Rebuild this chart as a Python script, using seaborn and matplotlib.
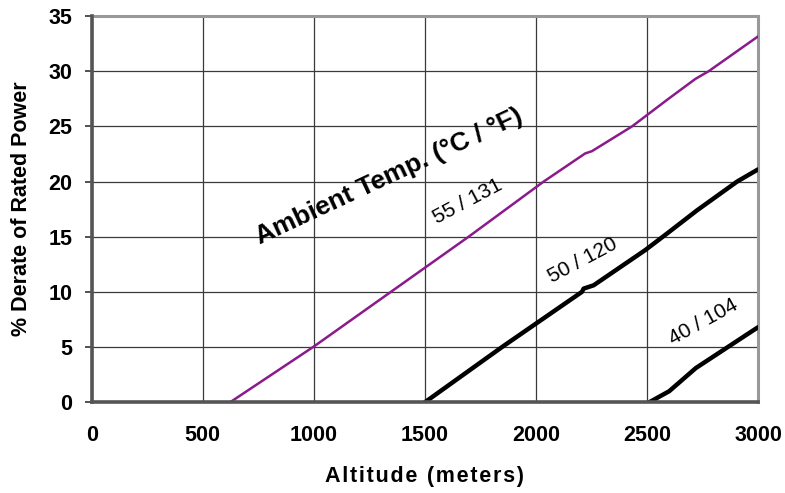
import matplotlib
matplotlib.use("Agg")
import matplotlib.pyplot as plt
import seaborn as sns
import pandas as pd

# Data
alt_55 = [623, 750, 1000, 1697, 2035, 2222, 2252, 2433, 2597, 2718, 2778, 3000]
der_55 = [0.0, 1.7, 5.05, 15.0, 20.0, 22.55, 22.75, 25.0, 27.5, 29.3, 30.0, 33.15]

alt_50 = [1500, 1847, 2207, 2215, 2260, 2493, 2591, 2726, 2906, 3000]
der_50 = [0.0, 5.0, 10.0, 10.3, 10.6, 13.8, 15.3, 17.4, 20.0, 21.1]

alt_40 = [2510, 2600, 2720, 3000]
der_40 = [0.0, 1.0, 3.1, 6.8]

series_labels = ["55 / 131", "50 / 120", "40 / 104"]
x_ticks = [0, 500, 1000, 1500, 2000, 2500, 3000]
y_ticks = [0, 5, 10, 15, 20, 25, 30, 35]

sns.set_theme(style="whitegrid")
plt.rcParams["font.family"] = ["Liberation Sans", "DejaVu Sans"]

df = pd.concat([
    pd.DataFrame({"alt": alt_55, "der": der_55, "curve": series_labels[0]}),
    pd.DataFrame({"alt": alt_50, "der": der_50, "curve": series_labels[1]}),
    pd.DataFrame({"alt": alt_40, "der": der_40, "curve": series_labels[2]}),
])

fig = plt.figure(figsize=(7.85, 4.93), dpi=100)
ax = fig.add_axes([0.1168, 0.184, 0.8488, 0.7835])

colors = {series_labels[0]: "#8B1A8B", series_labels[1]: "black", series_labels[2]: "black"}
widths = {series_labels[0]: 1.8, series_labels[1]: 3.2, series_labels[2]: 3.2}
for lab in series_labels:
    sub = df[df["curve"] == lab]
    sns.lineplot(data=sub, x="alt", y="der", ax=ax, color=colors[lab],
                 linewidth=widths[lab], sort=False, estimator=None, legend=False,
                 zorder=3)

ax.set_xlim(0, 3000)
ax.set_ylim(0, 35)
ax.set_xticks(x_ticks)
ax.set_yticks(y_ticks)
ax.set_xticklabels([str(v) for v in x_ticks], fontsize=15.5, fontweight="bold")
ax.set_yticklabels([str(v) for v in y_ticks], fontsize=15.5, fontweight="bold")

ax.grid(True, color="#3a3a3a", linewidth=0.9)
ax.set_facecolor("white")
for side in ["top", "right"]:
    ax.spines[side].set_color("#999999")
    ax.spines[side].set_linewidth(2.2)
for side in ["left", "bottom"]:
    ax.spines[side].set_color("#555555")
    ax.spines[side].set_linewidth(2.6)
    ax.spines[side].set_zorder(4)

ax.tick_params(axis="y", which="both", length=5, width=1.2, color="#333333",
               pad=9, left=True, labelcolor="black")
ax.tick_params(axis="x", which="both", length=0, pad=16, labelcolor="black")

hs = "\u200a"
xl = hs.join(list("Altitude (meters)"))
ax.set_xlabel(xl, fontsize=15.5, fontweight="bold", labelpad=15, color="black")
ax.set_ylabel("% Derate of Rated Power", fontsize=15.5, fontweight="bold",
              labelpad=12, color="black")

ax.text(1340, 20.5, "Ambient Temp. (°C / °F)", rotation=25, fontsize=19,
        fontweight="bold", ha="center", va="center", rotation_mode="anchor",
        color="black")
ax.text(1695, 18.2, series_labels[0], rotation=28, fontsize=15, ha="center",
        va="center", rotation_mode="anchor", color="black")
ax.text(2210, 12.9, series_labels[1], rotation=28, fontsize=15, ha="center",
        va="center", rotation_mode="anchor", color="black")
ax.text(2755, 7.28, series_labels[2], rotation=29, fontsize=15, ha="center",
        va="center", rotation_mode="anchor", color="black")

fig.savefig("out.png", dpi=100)
